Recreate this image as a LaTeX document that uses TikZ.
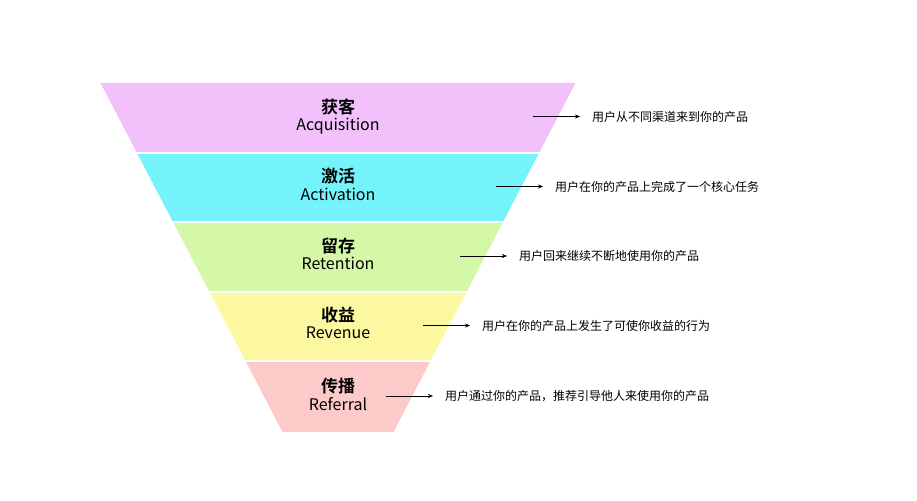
\documentclass[tikz,border=0pt]{standalone}
\usepackage{fontspec}
\setmainfont{Noto Sans CJK SC}[BoldFont={Noto Sans CJK SC Bold}]
\usetikzlibrary{arrows.meta,positioning}
\definecolor{acqcol}{HTML}{F2C0FA}
\definecolor{actcol}{HTML}{74F3FB}
\definecolor{retcol}{HTML}{D4F7A8}
\definecolor{revcol}{HTML}{FCF8A2}
\definecolor{refcol}{HTML}{FDCACA}
\begin{document}
\begin{tikzpicture}[x=1pt,y=-1pt,
  band title/.style = {font=\fontsize{17}{18}\selectfont\bfseries, align=center, inner sep=0pt},
  band sub/.style = {font=\fontsize{16}{18}\selectfont, inner sep=0pt},
  note/.style = {font=\fontsize{12}{14}\selectfont, anchor=west, inner sep=0pt},
  black arrow/.style = {-{Stealth[length=5pt,width=4pt]}, thin}]
\useasboundingbox (0,0) rectangle (917,500);
% funnel bands: top y, bottom y, colour, title, subtitle, note, arrow start
\foreach \t/\b/\c/\ti/\en/\nt/\ax/\n in {
  83/152/acqcol/获客/Acquisition/用户从不同渠道来到你的产品/533/1,
  154/221/actcol/激活/Activation/用户在你的产品上完成了一个核心任务/496/2,
  223/291/retcol/留存/Retention/用户回来继续不断地使用你的产品/460/3,
  293/360/revcol/收益/Revenue/用户在你的产品上发生了可使你收益的行为/423/4,
  362/432/refcol/传播/Referral/用户通过你的产品，推荐引导他人来使用你的产品/386/5}
{
  \pgfmathsetmacro{\wt}{237.5-0.5215*(\t-83)}
  \pgfmathsetmacro{\wb}{237.5-0.5215*(\b-83)}
  \fill[\c] (338-\wt,\t) -- (338+\wt,\t) -- (338+\wb,\b) -- (338-\wb,\b) -- cycle;
  \node[band title] (title\n) at (338,{(\t+\b)/2-11}) {\ti};
  \node[band sub, below=3pt of title\n] (sub\n) {\en};
  \coordinate (from\n) at (\ax,{(\t+\b)/2-1});
  \node[note] (note\n) at (\ax+59,{(\t+\b)/2-1}) {\nt};
  \draw[black arrow] (from\n) -- ([xshift=-12pt]note\n.west);
}
\end{tikzpicture}
\end{document}
